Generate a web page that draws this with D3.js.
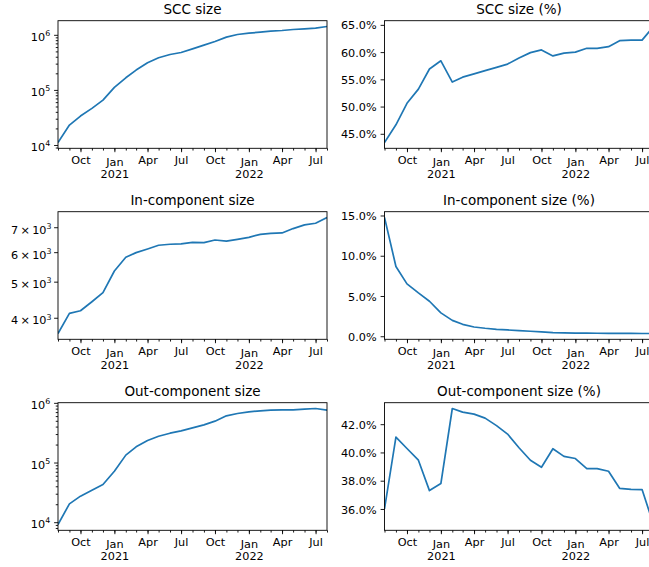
<!DOCTYPE html>
<html>
<head>
<meta charset="utf-8">
<script src="https://cdn.jsdelivr.net/npm/d3@7"></script>
<style>
	body { margin: 0; background: #fff; }
	svg { display: block; }
</style>
</head>
<body>
<div id="my_dataviz"></div>
<script>
// monthly snapshots
const months = [
	'2020-08-01', '2020-09-01', '2020-10-01', '2020-11-01', '2020-12-01',
	'2021-01-01', '2021-02-01', '2021-03-01', '2021-04-01', '2021-05-01', '2021-06-01', '2021-07-01',
	'2021-08-01', '2021-09-01', '2021-10-01', '2021-11-01', '2021-12-01',
	'2022-01-01', '2022-02-01', '2022-03-01', '2022-04-01', '2022-05-01', '2022-06-01', '2022-07-01',
	'2022-08-01'
];

const sccSize = [
	11100, 23000, 33500, 46200, 65400, 111000, 166000, 229000, 311000, 383000, 440000, 478000,
	557000, 649000, 757000, 907000, 1014000, 1072000, 1118000, 1165000, 1198000, 1249000, 1285000, 1321000,
	1416000
];
const sccPct = [
	43.4, 46.65, 50.6, 53.2, 56.9, 58.4, 54.5, 55.4, 56.0, 56.6, 57.2, 57.8,
	58.9, 59.9, 60.4, 59.3, 59.8, 60.0, 60.7, 60.7, 61.0, 62.1, 62.2, 62.2,
	64.7
];
const inSize = [
	3629, 4109, 4178, 4416, 4670, 5341, 5812, 5983, 6121, 6262, 6301, 6315,
	6375, 6362, 6468, 6425, 6496, 6577, 6700, 6742, 6756, 6942, 7102, 7175,
	7434
];
const inPct = [
	14.75, 8.67, 6.5, 5.38, 4.35, 2.9, 1.97, 1.48, 1.15, 0.99, 0.86, 0.78,
	0.70, 0.62, 0.53, 0.45, 0.41, 0.39, 0.38, 0.37, 0.36, 0.35, 0.35, 0.34,
	0.34
];
const outSize = [
	9150, 20300, 27300, 34400, 42800, 71600, 133000, 183000, 234000, 276000, 310000, 340000,
	381000, 428000, 493000, 606000, 663000, 707000, 735000, 754000, 764000, 764000, 784000, 804000,
	754000
];
const outPct = [
	36.0, 41.08, 40.28, 39.45, 37.3, 37.8, 43.11, 42.85, 42.71, 42.43, 41.9, 41.3,
	40.33, 39.45, 38.95, 40.26, 39.72, 39.57, 38.86, 38.86, 38.67, 37.46, 37.39, 37.37,
	34.9
];

// x tick labels (concise date style)
const xMajorTicks = [ '2020-10-01', '2021-01-01', '2021-04-01', '2021-07-01', '2021-10-01', '2022-01-01', '2022-04-01', '2022-07-01' ];
const xMajorLabels = [ 'Oct', 'Jan', 'Apr', 'Jul', 'Oct', 'Jan', 'Apr', 'Jul' ];
const xYearLabels = [ '', '2021', '', '', '', '2022', '', '' ];

// y tick values for percentage panels
const sccPctTicks = [ 45, 50, 55, 60, 65 ];
const inPctTicks = [ 0, 5, 10, 15 ];
const outPctTicks = [ 36, 38, 40, 42 ];

let dimensions = {
	width         : 649,
	height        : 567,
	colLeft       : [ 58, 384.5 ],
	rowTop        : [ 20.7, 211.7, 402.7 ],
	boundedWidth  : 269,
	boundedHeight : 127.6
};

const fontSize = 11.25;
const titleSize = 13.5;
const majorLen = 3.9;
const minorLen = 2.25;
const tickPad = 3.9;

const panels = [
	{ title: 'SCC size', values: sccSize, kind: 'log', row: 0, col: 0 },
	{ title: 'SCC size (%)', values: sccPct, kind: 'pct', ticks: sccPctTicks, row: 0, col: 1 },
	{ title: 'In-component size', values: inSize, kind: 'log', row: 1, col: 0 },
	{ title: 'In-component size (%)', values: inPct, kind: 'pct', ticks: inPctTicks, row: 1, col: 1 },
	{ title: 'Out-component size', values: outSize, kind: 'log', row: 2, col: 0 },
	{ title: 'Out-component size (%)', values: outPct, kind: 'pct', ticks: outPctTicks, row: 2, col: 1 }
];

const parseDate = d3.timeParse('%Y-%m-%d');
const dates = months.map(parseDate);
const majorDates = xMajorTicks.map(parseDate);

function styleAxis(g) {
	g.attr('font-family', "'DejaVu Sans', sans-serif").attr('font-size', fontSize);
	g.select('.domain').remove();
	g.selectAll('.tick line').attr('stroke', '#000').attr('stroke-width', 0.9);
	g.selectAll('text').attr('fill', '#000');
}

function decade(v) {
	return Math.floor(Math.log10(v) + 1e-9);
}

function mantissa(v) {
	return v / Math.pow(10, decade(v));
}

function logLabel(text, v, withMantissa) {
	const e = decade(v);
	const m = Math.round(mantissa(v));
	text.text(null);
	text.append('tspan').text(withMantissa ? m + '\u2009\u00d7\u200910' : '10');
	text.append('tspan').attr('font-size', fontSize * 0.7).attr('dy', '-0.62em').text(e);
}

function init() {
	d3.select('svg').remove();

	const svg = d3
		.select('#my_dataviz')
		.append('svg')
		.attr('width', dimensions.width)
		.attr('height', dimensions.height);

	svg.append('rect').attr('width', dimensions.width).attr('height', dimensions.height).attr('fill', '#fff');

	const W = dimensions.boundedWidth;
	const H = dimensions.boundedHeight;

	panels.forEach(function(p, k) {
		const bounds = svg
			.append('g')
			.attr('transform', `translate(${dimensions.colLeft[p.col]}, ${dimensions.rowTop[p.row]})`);

		bounds
			.append('defs')
			.append('clipPath')
			.attr('id', 'clip-' + k)
			.append('rect')
			.attr('width', W)
			.attr('height', H);

		const x = d3.scaleTime().domain([ dates[0], dates[dates.length - 1] ]).range([ 0, W ]);

		// autoscale with 5% margins, like matplotlib
		let y;
		if (p.kind === 'log') {
			const lo = Math.log10(d3.min(p.values));
			const hi = Math.log10(d3.max(p.values));
			const r = hi - lo;
			y = d3.scaleLog().domain([ Math.pow(10, lo - 0.05 * r), Math.pow(10, hi + 0.05 * r) ]).range([ H, 0 ]);
		} else {
			const lo = d3.min(p.values);
			const hi = d3.max(p.values);
			const r = hi - lo;
			y = d3.scaleLinear().domain([ lo - 0.05 * r, hi + 0.05 * r ]).range([ H, 0 ]);
		}

		// line
		const line = d3.line().x((d, i) => x(dates[i])).y((d) => y(d));
		bounds
			.append('path')
			.datum(p.values)
			.attr('clip-path', `url(#clip-${k})`)
			.attr('fill', 'none')
			.attr('stroke', '#1f77b4')
			.attr('stroke-width', 1.7)
			.attr('stroke-linejoin', 'round')
			.attr('d', line);

		// x minor ticks (months)
		bounds
			.append('g')
			.attr('transform', `translate(0, ${H})`)
			.call(d3.axisBottom(x).tickValues(dates).tickSize(minorLen).tickFormat(''))
			.call(styleAxis);

		// x major ticks
		bounds
			.append('g')
			.attr('class', 'x axis')
			.attr('transform', `translate(0, ${H})`)
			.call(
				d3
					.axisBottom(x)
					.tickValues(majorDates)
					.tickSize(majorLen)
					.tickPadding(tickPad)
					.tickFormat((d, i) => xMajorLabels[i])
			)
			.call(styleAxis)
			.selectAll('text')
			.each(function(d, i) {
				const t = d3.select(this).attr('dy', null);
				if (xYearLabels[i]) {
					t.text(null).attr('y', null);
					t.append('tspan').attr('x', 0).attr('y', 18.1).text(xMajorLabels[i]);
					t.append('tspan').attr('x', 0).attr('y', 29.4).text(xYearLabels[i]);
				} else {
					t.attr('y', 15.8);
				}
			});

		// y axis
		if (p.kind === 'log') {
			// keep only 1..9 x 10^k ticks
			const all = y.ticks().filter((v) => Math.abs(mantissa(v) - Math.round(mantissa(v))) < 1e-6);
			const isMajor = (v) => Math.abs(mantissa(v) - 1) < 1e-6;
			const major = all.filter(isMajor);
			const minor = all.filter((v) => !isMajor(v));
			if (major.length >= 2) {
				bounds
					.append('g')
					.call(d3.axisLeft(y).tickValues(minor).tickSize(minorLen).tickFormat(''))
					.call(styleAxis);
				bounds
					.append('g')
					.attr('class', 'y axis')
					.call(d3.axisLeft(y).tickValues(major).tickSize(majorLen).tickPadding(tickPad))
					.call(styleAxis)
					.selectAll('text')
					.attr('dy', '0.5em')
					.each(function(d) {
						logLabel(d3.select(this), d, false);
					});
			} else {
				bounds
					.append('g')
					.attr('class', 'y axis')
					.call(d3.axisLeft(y).tickValues(minor).tickSize(majorLen).tickPadding(2.6))
					.call(styleAxis)
					.selectAll('text')
					.attr('dy', '0.55em')
					.each(function(d) {
						logLabel(d3.select(this), d, true);
					});
			}
		} else {
			bounds
				.append('g')
				.attr('class', 'y axis')
				.call(
					d3
						.axisLeft(y)
						.tickValues(p.ticks)
						.tickSize(majorLen)
						.tickPadding(tickPad)
						.tickFormat((d) => d.toFixed(1) + '%')
				)
				.call(styleAxis)
				.selectAll('text')
				.attr('dy', '0.36em');
		}

		// spines
		bounds
			.append('rect')
			.attr('width', W)
			.attr('height', H)
			.attr('fill', 'none')
			.attr('stroke', '#000')
			.attr('stroke-width', 0.9);

		// title
		bounds
			.append('text')
			.attr('x', W / 2)
			.attr('y', -6.75)
			.attr('text-anchor', 'middle')
			.attr('font-family', "'DejaVu Sans', sans-serif")
			.attr('font-size', titleSize)
			.attr('fill', '#000')
			.text(p.title);
	});
}

init();
</script>
</body>
</html>
